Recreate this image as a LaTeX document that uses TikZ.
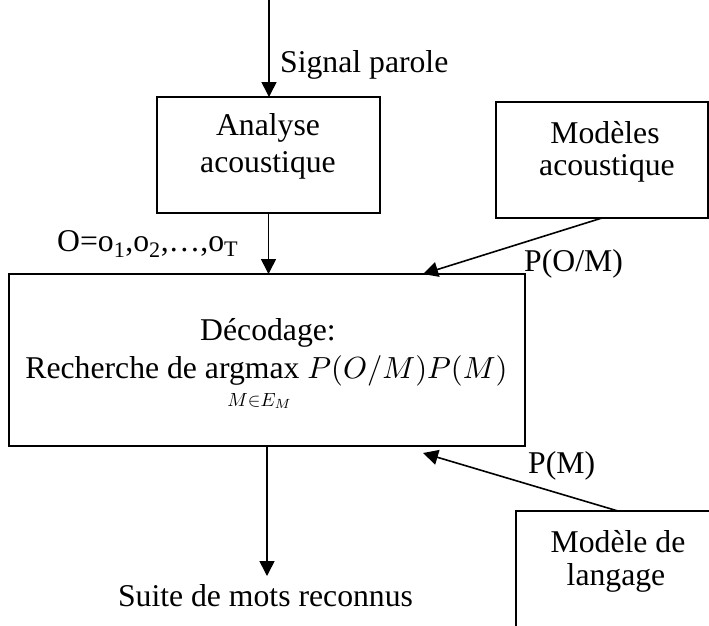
\documentclass[tikz,border=0pt]{standalone}
\usepackage{fontspec}
\setmainfont{Liberation Serif}
\usetikzlibrary{arrows.meta}
\newcommand\mymath[2]{\scalebox{#1}{\fontsize{10}{12}\selectfont$#2$}}
\begin{document}
\begin{tikzpicture}[x=1pt,y=-1pt,
  box/.style={draw, line width=1.6pt, inner sep=0pt, outer sep=0pt},
  txt/.style={anchor=base, inner sep=0pt, font=\fontsize{31.7}{38}\selectfont},
  arr/.style={line width=1.6pt, -{Triangle[length=15pt,width=15pt]}}]
\useasboundingbox (0,0) rectangle (709,625);
\clip (0,0) rectangle (709,625);
% boxes
\node[box, minimum width=223pt, minimum height=116pt] (ana) at (268.5,155) {};
\node[box, minimum width=212pt, minimum height=116pt] (macs) at (602,160) {};
\node[box, minimum width=516pt, minimum height=172pt] (dec) at (267,360) {};
\node[box, minimum width=202pt, minimum height=116pt] (lang) at (617,569) {};
% box texts
\node[txt] (ana1) at (268,135) {Analyse};
\node[txt] (ana2) at (268,172) {acoustique};
\node[txt] (macs1) at (605,143) {Modèles};
\node[txt] (macs2) at (607,175) {acoustique};
\node[txt] (lang1) at (618,552) {Modèle de};
\node[txt] (lang2) at (616,585) {langage};
\node[txt] (dec1) at (268,340) {Décodage:};
\node[txt] (dec2) at (266.5,378) {Recherche de argmax \mymath{3.05}{P(O/M)P(M)}};
\node[txt] (dec3) at (259.5,406) {\mymath{1.9}{M{\in}E_M}};
% labels
\node[txt, anchor=base west] (lsig) at (280,72) {Signal parole};
\node[txt, anchor=base west] (lobs) at (57,251) {O=o\textsubscript{1},o\textsubscript{2},\ldots,o\textsubscript{T}};
\node[txt, anchor=base west] (lpom) at (524,271) {P(O/M)};
\node[txt, anchor=base west] (lpm) at (528,473) {P(M)};
\node[txt] (lout) at (265.5,606) {Suite de mots reconnus};
% connectors
\coordinate (src) at (269,-2);
\coordinate (out) at (267,576);
\draw[arr] (src) -- (src |- ana.north);
\draw[arr] (ana.south) -- (ana.south |- dec.north);
\draw[arr] (macs.south) -- ([xshift=414pt]dec.north west);
\draw[arr] ([xshift=1pt]lang.north) -- ([xshift=414pt,yshift=-7pt]dec.south west);
\draw[arr] (dec.south) -- (out);
\end{tikzpicture}
\end{document}
